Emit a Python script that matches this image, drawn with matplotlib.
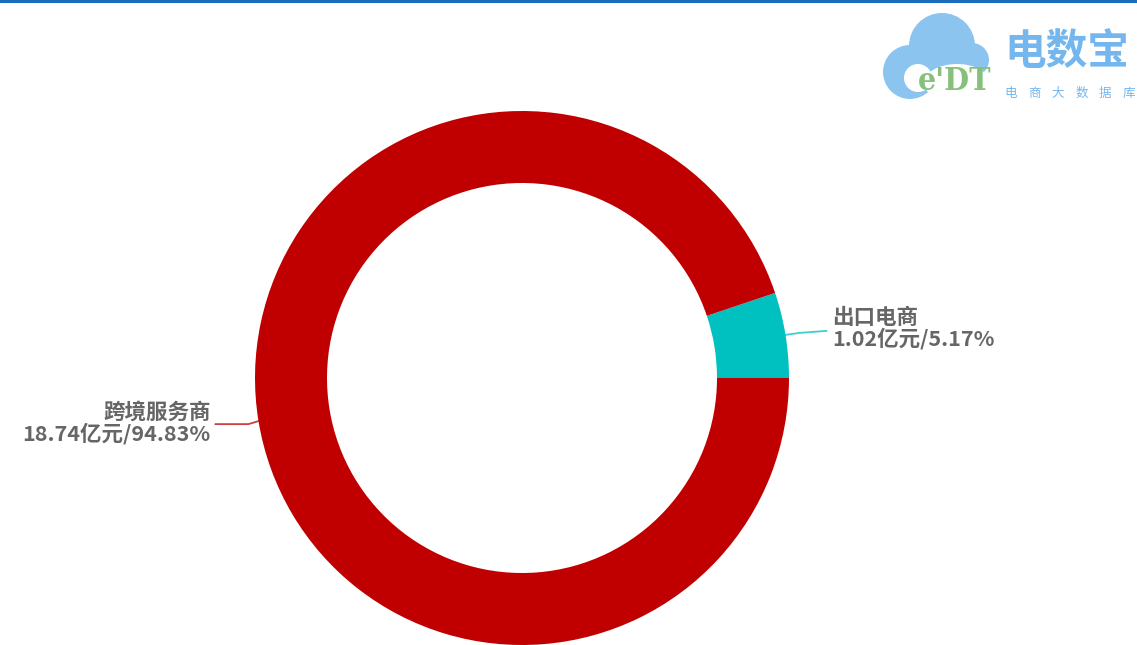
import matplotlib
matplotlib.use("Agg")
import matplotlib.pyplot as plt
from matplotlib.patches import Ellipse, Circle, Rectangle
import matplotlib.patheffects as pe
import numpy as np

plt.rcParams['font.family'] = ['Noto Sans CJK SC', 'DejaVu Sans']

categories = ['出口电商', '跨境服务商']
values = [1.02, 18.74]
percents = ['5.17%', '94.83%']
colors = ['#00c0c0', '#c00000']

W, H = 1137, 645
fig = plt.figure(figsize=(W / 100, H / 100), dpi=100)
ax = fig.add_axes([0, 0, 1, 1])

cx, cy, R, w = 522, H - 378, 267, 72
wedges, _ = ax.pie(values, colors=colors, startangle=0, counterclock=True,
                   radius=R, center=(cx, cy), frame=True,
                   wedgeprops=dict(width=w, linewidth=0))
ax.set_xlim(0, W)
ax.set_ylim(0, H)
ax.axis('off')

# labels
total = sum(values)
angles = []
start = 0
for v in values:
    span = v / total * 360
    angles.append(start + span / 2)
    start += span

label_color = '#666666'
fs = 15.5
for i, (cat, v, p, ang) in enumerate(zip(categories, values, percents, angles)):
    a = np.deg2rad(ang)
    x0, y0 = cx + R * np.cos(a), cy + R * np.sin(a)
    if np.cos(a) >= 0:
        x1, y1 = x0 + 14, y0 + 2
        x2 = x1 + 27
        ax.plot([x0, x1, x2], [y0, y1, y1 + 2], color=colors[i], lw=1.3, alpha=0.75)
        tx, ha = x2 + 6, 'left'
        ty = y1 + 3
    else:
        x1, y1 = x0 - 10, y0 - 3
        x2 = x1 - 33
        ax.plot([x0, x1, x2], [y0, y1, y1], color=colors[i], lw=1.3, alpha=0.75)
        tx, ha = x2 - 5, 'right'
        ty = y1 - 1
    ax.text(tx, ty + 2, cat, ha=ha, va='bottom', fontsize=fs, fontweight='bold',
            color=label_color)
    ax.text(tx, ty + 2, f'{v:.2f}亿元/{p}', ha=ha, va='top', fontsize=fs,
            fontweight='bold', color=label_color)

# top blue line
ax.add_patch(Rectangle((0, H - 3), W, 3, color='#1a6dbd', lw=0))

# logo cloud
cloud = '#8cc4f0'
for (ex, ey, r) in [(942, 46, 33), (910, 72, 27), (972, 60, 17)]:
    ax.add_patch(Circle((ex, H - ey), r, color=cloud, lw=0))
ax.add_patch(Ellipse((957, H - 83), 66, 38, color='white', lw=0))
ax.add_patch(Circle((918, H - 78), 14, color='white', lw=0))
ax.text(955, H - 82, "e'DT", ha='center', va='center', fontsize=23, fontweight='bold',
        color='#86c07a', family=['DejaVu Serif'], stretch='condensed')
ax.text(1067, H - 52, '电数宝', ha='center', va='center', fontsize=30, fontweight='bold',
        color='#74b6ee')
sub = '电商大数据库'
for k, ch in enumerate(sub):
    ax.text(1011 + k * 23.5, H - 93, ch, ha='center', va='center', fontsize=9,
            color='#74b6ee')

fig.savefig('out.png', dpi=100)
